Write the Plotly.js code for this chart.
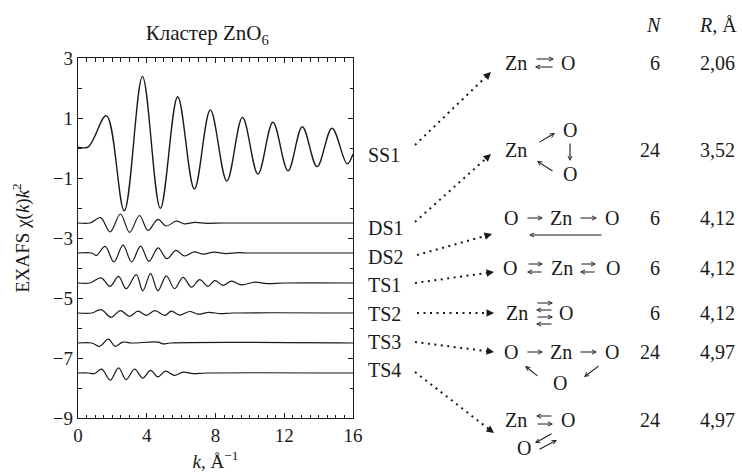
<!DOCTYPE html>
<html>
<head>
<meta charset="utf-8">
<script src="https://cdn.plot.ly/plotly-3.0.1.min.js"></script>
<style>
  html, body { margin: 0; padding: 0; background: #fff; }
  #chart { width: 742px; height: 474px; }
</style>
</head>
<body>
<div id="chart"></div>
<script>
// EXAFS contributions chi(k)k^2 of the scattering paths in the ZnO6 cluster.
// Each path is drawn on its own baseline; values are relative to that baseline.

const pathNames = ['SS1', 'DS1', 'DS2', 'TS1', 'TS2', 'TS3', 'TS4'];
const baselines = [0, -2.5, -3.5, -4.5, -5.5, -6.5, -7.5];

const ss1K   = [0, 0.6, 1.65, 2.69, 3.75, 4.79, 5.80, 6.77, 7.70, 8.66, 9.57, 10.47, 11.34, 12.22, 13.05, 13.91, 14.78, 15.66, 16];
const ss1Chi = [0.03, 0.04, 1.08, -2.09, 2.38, -2.01, 1.71, -1.37, 1.27, -1.10, 1.02, -0.87, 0.86, -0.76, 0.71, -0.62, 0.66, -0.53, -0.2];

const ds1K   = [0, 0.7, 1.31, 1.87, 2.47, 3.0, 3.58, 4.07, 4.65, 5.13, 5.72, 6.2, 6.8, 7.5, 8.5, 16];
const ds1Chi = [0, 0, 0.18, -0.30, 0.30, -0.31, 0.25, -0.25, 0.12, -0.10, 0.06, -0.03, 0.02, -0.01, 0, 0];

const ds2K   = [0, 0.8, 1.07, 1.58, 2.09, 2.62, 3.12, 3.64, 4.13, 4.66, 5.17, 5.7, 6.2, 6.75, 7.3, 7.9, 8.6, 9.3, 10, 16];
const ds2Chi = [0, 0, -0.08, 0.22, -0.30, 0.26, -0.30, 0.23, -0.28, 0.17, -0.19, 0.09, -0.10, 0.04, -0.04, 0.03, -0.02, 0.01, 0, 0];

const ts1K   = [0, 0.7, 1.34, 1.87, 2.36, 2.8, 3.39, 3.77, 4.22, 4.65, 5.14, 5.62, 6.11, 6.6, 7.08, 7.57, 7.96, 8.44, 8.93, 9.51, 10.3, 11, 12, 16];
const ts1Chi = [0, 0, 0.17, -0.11, 0.22, -0.19, 0.28, -0.26, 0.31, -0.26, 0.24, -0.19, 0.19, -0.14, 0.11, -0.11, 0.08, -0.08, 0.06, -0.06, 0.03, -0.02, 0, 0];

const ts2K   = [0, 0.8, 1.34, 1.93, 2.47, 3.0, 3.49, 3.98, 4.47, 5.05, 5.43, 5.91, 6.5, 6.98, 7.6, 8.3, 9, 16];
const ts2Chi = [0, 0, 0.11, -0.14, 0.08, -0.11, 0.06, -0.08, 0.08, -0.08, 0.06, -0.07, 0.05, -0.04, 0.02, -0.02, 0, 0];

const ts3K   = [0, 0.8, 1.25, 1.77, 2.16, 2.6, 3.1, 4.65, 4.95, 5.4, 16];
const ts3Chi = [0, 0, -0.11, 0.13, -0.11, 0.03, 0, 0.03, -0.03, 0, 0];

const ts4K   = [0, 0.6, 0.95, 1.38, 1.87, 2.36, 2.8, 3.29, 3.77, 4.22, 4.65, 5.08, 5.62, 6.11, 6.7, 7.5, 16];
const ts4Chi = [0, 0, -0.02, 0.13, -0.24, 0.17, -0.22, 0.13, -0.17, 0.09, -0.13, 0.06, -0.08, 0.03, -0.02, 0, 0];

// Table on the right: degeneracy N and half path length R for each path
const degeneracy = ['6', '24', '6', '6', '6', '24', '24'];
const pathLength = ['2,06', '3,52', '4,12', '4,12', '4,12', '4,97', '4,97'];

const pathK   = [ss1K, ds1K, ds2K, ts1K, ts2K, ts3K, ts4K];
const pathChi = [ss1Chi, ds1Chi, ds2Chi, ts1Chi, ts2Chi, ts3Chi, ts4Chi];

const SERIF = 'Liberation Serif, Times New Roman, DejaVu Serif, serif';
const INK = '#1a1a1a';

const traces = pathNames.map((name, i) => ({
  type: 'scatter',
  mode: 'lines',
  name: name,
  x: pathK[i],
  y: pathChi[i].map(v => v + baselines[i]),
  line: { color: INK, width: i === 0 ? 1.4 : 1.2, shape: 'spline', smoothing: 1 },
  hoverinfo: 'skip'
}));

// plot-area geometry in pixels, used to place the scheme on the right
const L = 78, T = 58, W = 275, H = 360;
const px = x => (x - L) / W;
const py = y => (T + H - y) / H;

function txt(x, y, text, opts) {
  return Object.assign({
    xref: 'paper', yref: 'paper', x: px(x), y: py(y), text: text,
    showarrow: false, xanchor: 'center', yanchor: 'middle',
    font: { family: SERIF, size: 20, color: INK }
  }, opts || {});
}

// thin chevron arrow from tail (x0, y0) to head (x1, y1), in pixels
function arrow(x0, y0, x1, y1) {
  return {
    xref: 'paper', yref: 'paper', x: px(x1), y: py(y1),
    ax: x0 - x1, ay: y0 - y1, text: '', showarrow: true,
    arrowhead: 5, arrowsize: 0.75, arrowwidth: 1.1, arrowcolor: INK, standoff: 0
  };
}

const annotations = [];
const shapes = [];

// path labels next to the curves
const labelY = [155, 228, 257, 285, 314, 342, 370];
pathNames.forEach((n, i) => annotations.push(txt(366, labelY[i], n, { xanchor: 'left' })));

// column headers
annotations.push(txt(654, 25, '<i>N</i>'));
annotations.push(txt(718, 25, '<i>R</i>, Å'));

// N and R columns
const rowY = [63, 150, 218, 268, 313, 352, 420];
rowY.forEach((y, i) => {
  annotations.push(txt(degeneracy[i].length > 1 ? 650 : 655, y, degeneracy[i]));
  annotations.push(txt(717, y, pathLength[i]));
});

// SS1: Zn <-> O
annotations.push(txt(516, 63, 'Zn'));
annotations.push(arrow(535, 59, 554, 59));
annotations.push(arrow(554, 67, 535, 67));
annotations.push(txt(568, 63, 'O'));

// DS1: Zn -> O -> O -> Zn
annotations.push(txt(516, 150, 'Zn'));
annotations.push(arrow(538, 143, 555, 133));
annotations.push(txt(570, 130, 'O'));
annotations.push(arrow(570, 142, 570, 161));
annotations.push(arrow(554, 172, 537, 161));
annotations.push(txt(570, 174, 'O'));

// DS2: O -> Zn -> O, back
annotations.push(txt(511, 218, 'O'));
annotations.push(arrow(526, 218, 543, 218));
annotations.push(txt(561, 218, 'Zn'));
annotations.push(arrow(579, 218, 597, 218));
annotations.push(txt(612, 218, 'O'));
annotations.push(arrow(603, 235, 529, 235));

// TS1: O <-> Zn <-> O
annotations.push(txt(510, 268, 'O'));
annotations.push(arrow(527, 264, 543, 264));
annotations.push(arrow(543, 272, 527, 272));
annotations.push(txt(562, 268, 'Zn'));
annotations.push(arrow(580, 264, 596, 264));
annotations.push(arrow(596, 272, 580, 272));
annotations.push(txt(613, 268, 'O'));

// TS2: Zn <-> O, twice
annotations.push(txt(517, 313, 'Zn'));
annotations.push(arrow(536, 303, 553, 303));
annotations.push(arrow(553, 310, 536, 310));
annotations.push(arrow(536, 317, 553, 317));
annotations.push(arrow(553, 324, 536, 324));
annotations.push(txt(566, 313, 'O'));

// TS3: O -> Zn -> O -> O
annotations.push(txt(511, 352, 'O'));
annotations.push(arrow(526, 352, 543, 352));
annotations.push(txt(561, 352, 'Zn'));
annotations.push(arrow(579, 352, 597, 352));
annotations.push(txt(612, 352, 'O'));
annotations.push(arrow(539, 377, 525, 366));
annotations.push(txt(560, 383, 'O'));
annotations.push(arrow(600, 365, 584, 377));

// TS4: Zn <-> O <-> O
annotations.push(txt(516, 420, 'Zn'));
annotations.push(arrow(553, 416, 536, 416));
annotations.push(arrow(536, 424, 553, 424));
annotations.push(txt(568, 420, 'O'));
annotations.push(txt(524, 448, 'O'));
annotations.push(arrow(553, 433, 535, 443));
annotations.push(arrow(538, 450, 557, 440));

// dotted leaders from the path labels to the schemes
const leaders = [
  [415, 145, 491, 72],
  [415, 222, 491, 154],
  [417, 255, 492, 234],
  [415, 283, 494, 272],
  [417, 313, 494, 313],
  [415, 342, 494, 352],
  [415, 372, 494, 433]
];
leaders.forEach(([x0, y0, x1, y1]) => {
  const dx = x1 - x0, dy = y1 - y0, len = Math.hypot(dx, dy);
  const ux = dx / len, uy = dy / len;
  shapes.push({
    type: 'line', xref: 'paper', yref: 'paper',
    x0: px(x0), y0: py(y0), x1: px(x1 - ux * 6), y1: py(y1 - uy * 6),
    line: { color: INK, width: 2, dash: '2px,4.5px' }
  });
  annotations.push({
    xref: 'paper', yref: 'paper', x: px(x1), y: py(y1),
    ax: -ux * 8, ay: -uy * 8, text: '', showarrow: true,
    arrowhead: 2, arrowsize: 1, arrowwidth: 1.5, arrowcolor: INK
  });
});

const axisCommon = {
  showline: true, linecolor: INK, linewidth: 1.3, mirror: 'ticks',
  ticks: 'inside', ticklen: 5, tickwidth: 1, tickcolor: INK,
  showgrid: false, zeroline: false,
  tickfont: { family: SERIF, size: 19, color: INK }
};

const layout = {
  width: 742, height: 474,
  margin: { l: L, r: 742 - L - W, t: T, b: 474 - T - H },
  paper_bgcolor: '#fff', plot_bgcolor: '#fff',
  showlegend: false,
  title: {
    text: 'Кластер ZnO<sub>6</sub>',
    xref: 'paper', x: 0.47, xanchor: 'center',
    yref: 'container', y: 1 - 33 / 474, yanchor: 'middle',
    font: { family: SERIF, size: 21, color: INK }
  },
  xaxis: Object.assign({}, axisCommon, {
    range: [0, 16], tick0: 0, dtick: 4,
    minor: { dtick: 0.5, ticks: 'inside', ticklen: 3.5, tickcolor: INK, showgrid: false },
    title: { text: '<i>k</i>, Å<sup>−1</sup>', standoff: 9, font: { family: SERIF, size: 19, color: INK } }
  }),
  yaxis: Object.assign({}, axisCommon, {
    range: [-9, 3], tick0: 1, dtick: 2,
    minor: { dtick: 1, ticks: 'inside', ticklen: 3.5, tickcolor: INK, showgrid: false },
    title: { text: 'EXAFS χ(<i>k</i>)<i>k</i><sup>2</sup>', standoff: 18, font: { family: SERIF, size: 19, color: INK } }
  }),
  annotations: annotations,
  shapes: shapes
};

Plotly.newPlot('chart', traces, layout, { displayModeBar: false, staticPlot: true });
</script>
</body>
</html>
